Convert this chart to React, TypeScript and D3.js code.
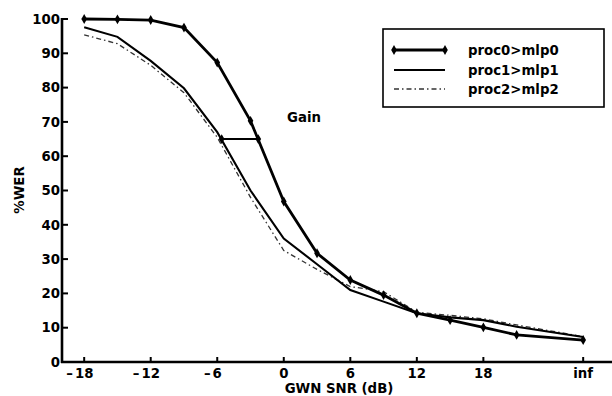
import React from "react";
import * as d3 from "d3";

// ---- data ----
const snrPoints: (number | string)[] = [-18, -15, -12, -9, -6, -3, 0, 3, 6, 9, 12, 15, 18, 21, "inf"];
const proc0 = [100, 99.9, 99.7, 97.5, 87.3, 70.3, 46.8, 31.7, 23.9, 19.5, 14.2, 12.2, 10.1, 7.9, 6.4];
const proc1 = [97.6, 94.8, 87.8, 79.8, 67, 50, 36, 28.5, 21, 17.6, 14.2, 13.0, 12.2, 10.3, 7.3];
const proc2 = [95.4, 92.8, 86.5, 78.5, 65.5, 48, 32.5, 27, 22, 20.5, 14.5, 13.6, 12.6, 10.8, 7.4];
const seriesNames = ["proc0>mlp0", "proc1>mlp1", "proc2>mlp2"];
const xTickValues: (number | string)[] = [-18, -12, -6, 0, 6, 12, 18, "inf"];
const yTickValues = [0, 10, 20, 30, 40, 50, 60, 70, 80, 90, 100];
const gainLevel = 65;
const gainFrom = -5.6;
const gainTo = -2.3;
const gainLabel = "Gain";
const xTitle = "GWN SNR (dB)";
const yTitle = "%WER";
const INF_AT = 27;

const FONT = "'DejaVu Sans', sans-serif";
const FS = 13.3;
const DIGIT_W = 0.696 * FS;

const toNum = (v: number | string) => (v === "inf" ? INF_AT : (v as number));

export default function App() {
  const x = d3.scaleLinear().domain([-20, 29.6]).range([62, 612]);
  const y = d3.scaleLinear().domain([0, 100]).range([362, 19]);

  const mk = (vals: number[]) =>
    d3
      .line<number>()
      .x((_, i) => x(toNum(snrPoints[i])))
      .y((d) => y(d))(vals) as string;

  const diamond = d3.symbol().type(d3.symbolDiamond).size(28)() as string;

  const legendRows = [50, 70, 89];
  const lgX0 = 394;
  const lgX1 = 445;

  return (
    <svg
      width={612}
      height={396}
      style={{ position: "absolute", left: 0, top: 0, background: "#fff" }}
      fontFamily={FONT}
      fontWeight="bold"
      fontSize={FS}
    >
      <rect x={0} y={0} width={612} height={396} fill="#fff" />
      {/* axes */}
      <line x1={62} x2={62} y1={y(100) - 1} y2={y(0) + 1} stroke="#000" strokeWidth={2.6} />
      <line x1={61} x2={612} y1={y(0)} y2={y(0)} stroke="#000" strokeWidth={2.6} />
      {yTickValues.map((t) => (
        <g key={"y" + t}>
          <line x1={62} x2={68} y1={y(t)} y2={y(t)} stroke="#000" strokeWidth={2} />
          <text x={60} y={y(t)} dy="0.36em" textAnchor="end">
            {t}
          </text>
        </g>
      ))}
      {xTickValues.map((t) => {
        const px = x(toNum(t));
        const neg = typeof t === "number" && t < 0;
        const digits = neg ? String(Math.abs(t as number)) : String(t);
        return (
          <g key={"x" + t}>
            <line x1={px} x2={px} y1={y(0)} y2={y(0) - 5} stroke="#000" strokeWidth={2} />
            <text x={px} y={378} textAnchor="middle">
              {digits}
            </text>
            {neg && (
              <text x={px - (digits.length * DIGIT_W) / 2 - 2} y={378} textAnchor="end">
                –
              </text>
            )}
          </g>
        );
      })}
      <text x={339} y={393} textAnchor="middle">
        {xTitle}
      </text>
      <text transform="translate(24,190) rotate(-90)" textAnchor="middle">
        {yTitle}
      </text>

      {/* series */}
      <path d={mk(proc2)} fill="none" stroke="#333" strokeWidth={1.3} strokeDasharray="5,3,1.5,3" />
      <path d={mk(proc1)} fill="none" stroke="#000" strokeWidth={2.1} />
      <path d={mk(proc0)} fill="none" stroke="#000" strokeWidth={2.8} />
      {proc0.map((v, i) => (
        <path key={"m" + i} d={diamond} transform={`translate(${x(toNum(snrPoints[i]))},${y(v)})`} fill="#000" />
      ))}

      {/* gain annotation */}
      <line x1={x(gainFrom)} x2={x(gainTo)} y1={y(gainLevel)} y2={y(gainLevel)} stroke="#000" strokeWidth={2} />
      <path d={diamond} transform={`translate(${x(gainFrom)},${y(gainLevel)})`} fill="#000" />
      <path d={diamond} transform={`translate(${x(gainTo)},${y(gainLevel)})`} fill="#000" />
      <text x={287} y={122}>{gainLabel}</text>

      {/* legend */}
      <rect x={383} y={29} width={221} height={78} fill="#fff" stroke="#000" strokeWidth={1.6} />
      <line x1={lgX0} x2={lgX1} y1={legendRows[0]} y2={legendRows[0]} stroke="#000" strokeWidth={2.8} />
      <path d={diamond} transform={`translate(${lgX0},${legendRows[0]})`} fill="#000" />
      <path d={diamond} transform={`translate(${lgX1},${legendRows[0]})`} fill="#000" />
      <line x1={lgX0} x2={lgX1} y1={legendRows[1]} y2={legendRows[1]} stroke="#000" strokeWidth={2.1} />
      <line
        x1={lgX0}
        x2={lgX1}
        y1={legendRows[2]}
        y2={legendRows[2]}
        stroke="#333"
        strokeWidth={1.3}
        strokeDasharray="5,3,1.5,3"
      />
      {seriesNames.map((n, i) => (
        <text key={n} x={468} y={legendRows[i]} dy="0.36em">
          {n}
        </text>
      ))}
    </svg>
  );
}
